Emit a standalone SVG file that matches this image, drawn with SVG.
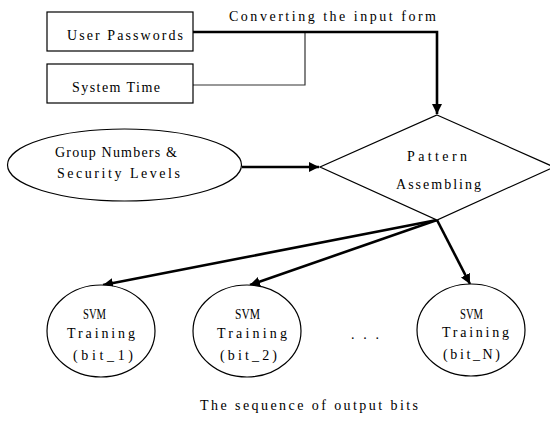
<svg xmlns="http://www.w3.org/2000/svg" width="550" height="421" viewBox="0 0 550 421">
<defs>
<style>
.shape{fill:#fff;stroke:#000;stroke-width:1.2}
.t{font-family:"Liberation Serif","DejaVu Serif",serif;font-size:14px;fill:#000}
.thick{fill:none;stroke:#000;stroke-width:2.6}
.thin{fill:none;stroke:#333;stroke-width:1.2}
</style>
<marker id="ah" markerUnits="userSpaceOnUse" markerWidth="12" markerHeight="10" refX="10" refY="5" orient="auto">
<path d="M0,0 L10,5 L0,10 Z" fill="#000"/>
</marker>
</defs>
<rect width="550" height="421" fill="#fff"/>
<g id="connectors">
<path class="thin" d="M193,85 H305 V32"/>
<path class="thick" d="M193,32 H437 V114" marker-end="url(#ah)"/>
<path class="thick" d="M242,167 H319" marker-end="url(#ah)"/>
<path class="thick" d="M437,220 L103,285" marker-end="url(#ah)"/>
<path class="thick" d="M437,220 L250,285" marker-end="url(#ah)"/>
<path class="thick" d="M437,220 L470,284" marker-end="url(#ah)"/>
</g>
<text class="t" x="229" y="21" textLength="207" lengthAdjust="spacing">Converting the input form</text>
<g id="user-passwords">
<rect class="shape" x="47" y="12" width="146" height="39"/>
<text class="t" x="67" y="40" textLength="116" lengthAdjust="spacing">User Passwords</text>
</g>
<g id="system-time">
<rect class="shape" x="47" y="64" width="146" height="39"/>
<text class="t" x="72" y="92" textLength="88" lengthAdjust="spacing">System Time</text>
</g>
<g id="group-numbers">
<ellipse class="shape" cx="124.5" cy="165" rx="117" ry="36"/>
<text class="t" x="55" y="157" textLength="122" lengthAdjust="spacing">Group Numbers &amp;</text>
<text class="t" x="57" y="178" textLength="123" lengthAdjust="spacing">Security Levels</text>
</g>
<g id="pattern-assembling">
<polygon class="shape" points="437,115 554,167 437,220 320,167"/>
<text class="t" x="407" y="161" textLength="60" lengthAdjust="spacing">Pattern</text>
<text class="t" x="396" y="189" textLength="85" lengthAdjust="spacing">Assembling</text>
</g>
<g id="svm-bit1">
<ellipse class="shape" cx="101" cy="331" rx="54" ry="46"/>
<text class="t" x="83" y="319" textLength="23" lengthAdjust="spacingAndGlyphs">SVM</text>
<text class="t" x="67" y="338" textLength="68" lengthAdjust="spacing">Training</text>
<text class="t" x="73" y="360" textLength="60" lengthAdjust="spacing">(bit_1)</text>
</g>
<g id="svm-bit2">
<ellipse class="shape" cx="247" cy="331" rx="54" ry="46"/>
<text class="t" x="235" y="319" textLength="25" lengthAdjust="spacingAndGlyphs">SVM</text>
<text class="t" x="217" y="338" textLength="70" lengthAdjust="spacing">Training</text>
<text class="t" x="220" y="360" textLength="57" lengthAdjust="spacing">(bit_2)</text>
</g>
<g id="svm-bitN">
<ellipse class="shape" cx="471" cy="330" rx="54" ry="46"/>
<text class="t" x="460" y="319" textLength="23" lengthAdjust="spacingAndGlyphs">SVM</text>
<text class="t" x="442" y="337" textLength="67" lengthAdjust="spacing">Training</text>
<text class="t" x="443" y="359" textLength="57" lengthAdjust="spacing">(bit_N)</text>
</g>
<text class="t" x="351" y="339" textLength="28" lengthAdjust="spacing">...</text>
<text class="t" x="200" y="410" textLength="218" lengthAdjust="spacing">The sequence of output bits</text>
</svg>
